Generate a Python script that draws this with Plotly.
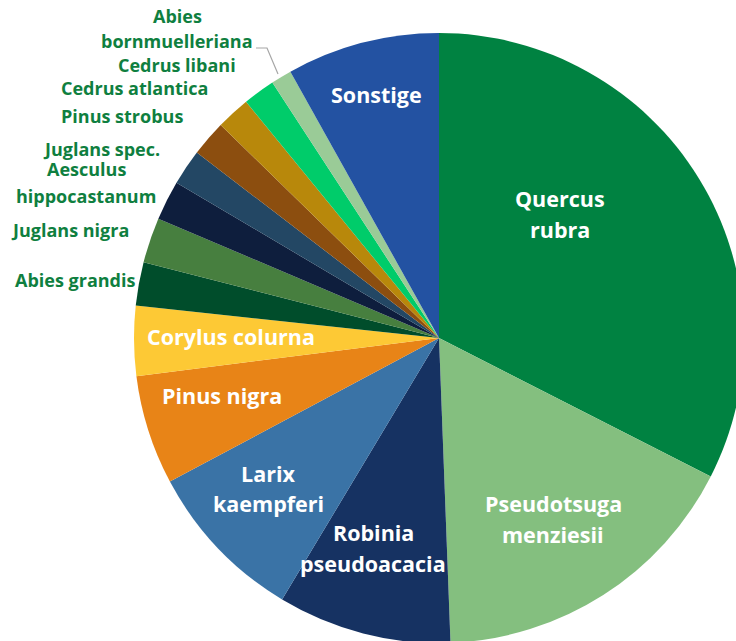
import plotly.graph_objects as go

# ---- data ----
species = [
    "Quercus rubra", "Pseudotsuga menziesii", "Robinia pseudoacacia",
    "Larix kaempferi", "Pinus nigra", "Corylus colurna", "Abies grandis",
    "Juglans nigra", "Aesculus hippocastanum", "Juglans spec.",
    "Pinus strobus", "Cedrus atlantica", "Cedrus libani",
    "Abies bornmuelleriana", "Sonstige",
]
shares = [32.5, 16.9, 9.2, 8.6, 5.8, 3.7, 2.3, 2.4, 2.1, 1.9, 1.9, 1.8, 1.7, 1.1, 8.1]

# how each label is broken into lines (display only)
label_breaks = {
    "Quercus rubra": 1, "Pseudotsuga menziesii": 1, "Robinia pseudoacacia": 1,
    "Larix kaempferi": 1, "Aesculus hippocastanum": 1, "Abies bornmuelleriana": 1,
}

# ---- styles ----
colors = [
    "#008241", "#84bf7f", "#163262", "#3a73a6", "#e88417", "#fdc935", "#004d2b",
    "#477f3f", "#0e1e3d", "#234764", "#8c4e0f", "#b8880b", "#00cc6a",
    "#9acb97", "#2352a2",
]

FW, FH = 750, 650          # figure size (page is cropped to 736x641)
CX, CY, R = 439, 338, 305  # pie centre / radius in pixels

FONT = "Open Sans"
IN_SIZE, OUT_SIZE = 21.5, 18
OUT_COLOR = "#0f7f40"

# label anchor: (x, first baseline y, anchor, line spacing, inside?)
label_pos = {
    "Quercus rubra": (560, 207, "center", 31, True),
    "Pseudotsuga menziesii": (553, 512, "center", 31, True),
    "Robinia pseudoacacia": (373, 541, "center", 31, True),
    "Larix kaempferi": (268, 482, "center", 30, True),
    "Pinus nigra": (222, 404, "center", 30, True),
    "Corylus colurna": (231, 345, "center", 30, True),
    "Sonstige": (376, 103, "center", 30, True),
    "Abies bornmuelleriana": (177, 23, "center", 25, False),
    "Cedrus libani": (238, 72, "right", 25, False),
    "Cedrus atlantica": (210, 95, "right", 25, False),
    "Pinus strobus": (185, 123, "right", 25, False),
    "Juglans spec.": (162, 156, "right", 25, False),
    "Aesculus hippocastanum": (86, 176, "center", 27, False),
    "Juglans nigra": (131, 237, "right", 25, False),
    "Abies grandis": (137, 287, "right", 25, False),
}


def px(x):
    return x / FW


def py(y):
    return 1 - y / FH


fig = go.Figure(
    go.Pie(
        labels=species,
        values=shares,
        sort=False,
        direction="clockwise",
        rotation=0,
        marker=dict(colors=colors, line=dict(width=0)),
        textinfo="none",
        hoverinfo="label+percent",
        showlegend=False,
        domain=dict(x=[px(CX - R), px(CX + R)], y=[py(CY + R), py(CY - R)]),
    )
)

annotations = []
for name in species:
    x, y0, anchor, spacing, inside = label_pos[name]
    if name in label_breaks:
        words = name.split(" ")
        lines = [" ".join(words[:label_breaks[name]]), " ".join(words[label_breaks[name]:])]
    else:
        lines = [name]
    size = IN_SIZE if inside else OUT_SIZE
    color = "white" if inside else OUT_COLOR
    for i, line in enumerate(lines):
        base = y0 + i * spacing
        annotations.append(dict(
            x=px(x), y=py(base - 0.388 * size), xref="paper", yref="paper",
            text=line, showarrow=False, xanchor=anchor, yanchor="middle",
            font=dict(family=FONT, size=size, color=color, weight="bold"),
        ))

fig.update_layout(
    width=FW, height=FH, autosize=False,
    margin=dict(l=0, r=0, t=0, b=0, pad=0),
    paper_bgcolor="white", plot_bgcolor="white",
    annotations=annotations,
    shapes=[dict(
        type="path", xref="paper", yref="paper",
        path=f"M {px(256)} {py(48)} L {px(267)} {py(48)} L {px(278)} {py(74)}",
        line=dict(color="#a6a6a6", width=1.2),
    )],
)

fig.write_html(
    "out.html",
    config={"displayModeBar": False},
    post_script="document.body.style.margin='0';document.body.style.overflow='hidden';"
                "document.documentElement.style.overflow='hidden';",
)
